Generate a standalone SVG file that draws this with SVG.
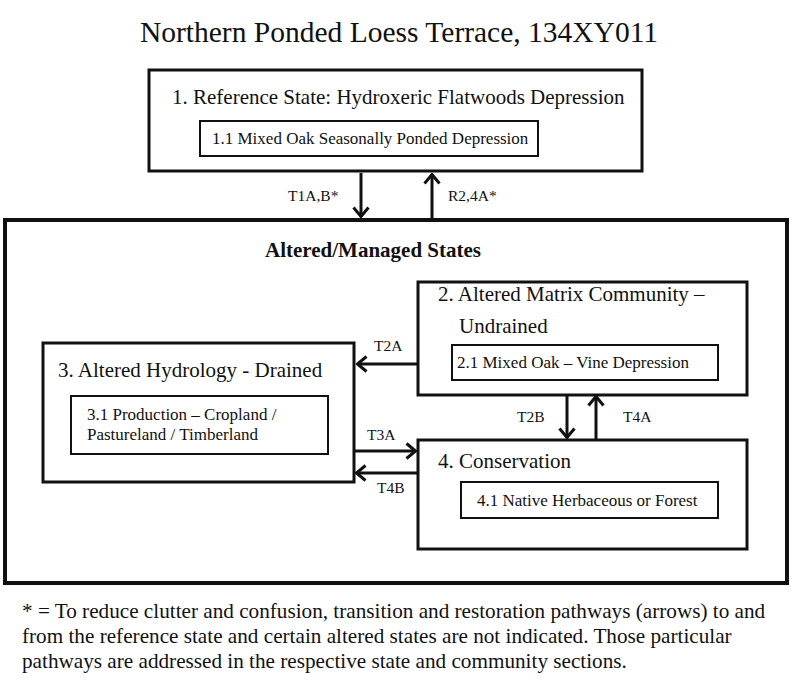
<svg xmlns="http://www.w3.org/2000/svg" width="800" height="688" viewBox="0 0 800 688">
<defs>
<style>
text{font-family:'Liberation Serif','Times New Roman','DejaVu Serif',serif;fill:#111}
.title{font-size:29.5px}
.state{font-size:21px}
.comm{font-size:17px}
.lbl{font-size:15.5px}
.foot{font-size:21.2px}
.bold{font-size:21px;font-weight:bold}
.box{fill:#fff;stroke:#111;stroke-width:3}
.inner{fill:#fff;stroke:#111;stroke-width:2}
.outer{fill:none;stroke:#111;stroke-width:4}
.arr{stroke:#111;stroke-width:3;fill:none;marker-end:url(#chev)}
</style>
<marker id="chev" viewBox="0 0 12 18" refX="11" refY="9" markerWidth="12" markerHeight="18" markerUnits="userSpaceOnUse" orient="auto">
<path d="M1.5,1.5 L10.5,9 L1.5,16.5" fill="none" stroke="#111" stroke-width="3"/>
</marker>
</defs>
<rect width="800" height="688" fill="#fff"/>
<g font-family="Liberation Serif, Times New Roman, DejaVu Serif, serif">
<text class="title" x="399" y="42" text-anchor="middle">Northern Ponded Loess Terrace, 134XY011</text>

<g id="outer-altered">
<rect class="outer" x="5" y="220" width="782" height="363"/>
<text class="bold" x="373" y="257" text-anchor="middle">Altered/Managed States</text>
</g>

<g id="state1">
<rect class="box" x="149" y="70" width="493" height="101"/>
<text class="state" x="172" y="104">1. Reference State: Hydroxeric Flatwoods Depression</text>
<rect class="inner" x="200" y="121" width="338" height="35"/>
<text class="comm" x="212" y="144">1.1 Mixed Oak Seasonally Ponded Depression</text>
</g>

<g id="state2">
<rect class="box" x="418" y="282" width="329" height="113"/>
<text class="state" x="438" y="301">2. Altered Matrix Community –</text>
<text class="state" x="459" y="333">Undrained</text>
<rect class="inner" x="452" y="345" width="266" height="35"/>
<text class="comm" x="457" y="368">2.1 Mixed Oak – Vine Depression</text>
</g>

<g id="state3">
<rect class="box" x="43" y="343" width="311" height="139"/>
<text class="state" x="58" y="377">3. Altered Hydrology - Drained</text>
<rect class="inner" x="71" y="396" width="257" height="58"/>
<text class="comm" x="87" y="420">3.1 Production – Cropland /</text>
<text class="comm" x="87" y="440">Pastureland / Timberland</text>
</g>

<g id="state4">
<rect class="box" x="418" y="440" width="329" height="109"/>
<text class="state" x="438" y="468">4. Conservation</text>
<rect class="inner" x="461" y="482" width="257" height="36"/>
<text class="comm" x="477" y="506">4.1 Native Herbaceous or Forest</text>
</g>

<g id="connectors">
<line class="arr" x1="361" y1="173" x2="361" y2="217"/>
<text class="lbl" x="288" y="201">T1A,B*</text>
<line class="arr" x1="432" y1="218" x2="432" y2="174"/>
<text class="lbl" x="448" y="201">R2,4A*</text>
<line class="arr" x1="418" y1="364" x2="357" y2="364"/>
<text class="lbl" x="374" y="351">T2A</text>
<line class="arr" x1="354" y1="451" x2="416" y2="451"/>
<text class="lbl" x="367" y="440">T3A</text>
<line class="arr" x1="418" y1="473" x2="356" y2="473"/>
<text class="lbl" x="377" y="493">T4B</text>
<line class="arr" x1="567" y1="395" x2="567" y2="438"/>
<text class="lbl" x="517" y="422">T2B</text>
<line class="arr" x1="596" y1="439" x2="596" y2="396"/>
<text class="lbl" x="623" y="422">T4A</text>
</g>

<g id="footnote">
<text class="foot" x="22" y="618">* = To reduce clutter and confusion, transition and restoration pathways (arrows) to and</text>
<text class="foot" x="22" y="643">from the reference state and certain altered states are not indicated. Those particular</text>
<text class="foot" x="22" y="668">pathways are addressed in the respective state and community sections.</text>
</g>
</g>
</svg>
